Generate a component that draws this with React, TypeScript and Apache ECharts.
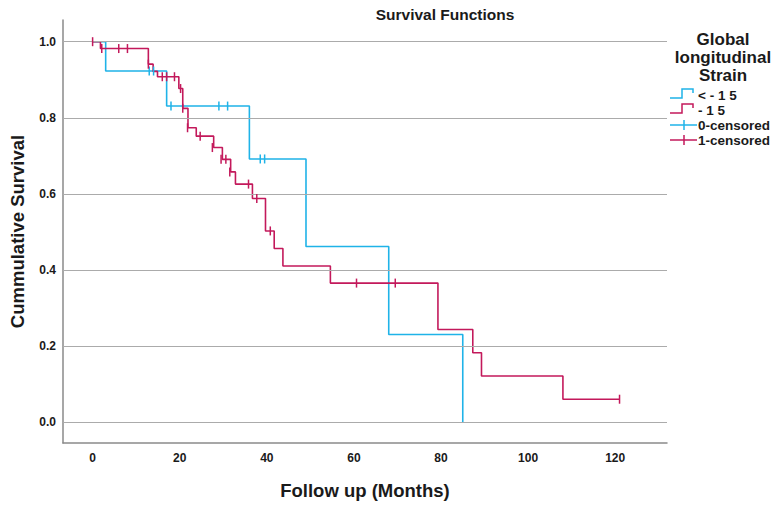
import React, { useEffect, useRef } from "react";
import * as echarts from "echarts";

// Kaplan-Meier step data (time in months, cumulative survival)
const blueTimes = [0, 3, 17, 36, 49, 68, 85];
const blueSurv = [1.0, 0.923, 0.831, 0.692, 0.462, 0.231, 0.0];
const blueCensorTimes = [13, 14, 18, 29, 31, 38.5, 39.5];
const blueCensorSurv = [0.923, 0.923, 0.831, 0.831, 0.831, 0.692, 0.692];

const redTimes = [0, 1.8, 12.8, 13.9, 14.9, 19.8, 20.7, 21.9, 23.8, 27.8, 29.8, 31.7, 32.8, 36.7, 39.7, 41.7, 43.7, 54.6, 79.3, 87.3, 89.3, 108, 121];
const redSurv = [1.0, 0.982, 0.941, 0.922, 0.908, 0.877, 0.825, 0.774, 0.752, 0.722, 0.691, 0.658, 0.626, 0.588, 0.503, 0.457, 0.411, 0.366, 0.244, 0.183, 0.122, 0.061, 0.061];
const redCensorTimes = [0, 2.1, 6, 8, 12.8, 16, 17, 18.8, 20.2, 20.7, 21.8, 24.7, 27.5, 29.5, 30.6, 31.5, 35.8, 37.7, 40.8, 60.6, 69.5, 121];
const redCensorSurv = [1.0, 0.982, 0.982, 0.982, 0.941, 0.908, 0.908, 0.908, 0.877, 0.825, 0.774, 0.752, 0.722, 0.691, 0.691, 0.658, 0.626, 0.588, 0.503, 0.366, 0.366, 0.061];

const xTickLabels = [0, 20, 40, 60, 80, 100, 120];
const yTickLabels = [0, 0.2, 0.4, 0.6, 0.8, 1.0];

const groupNames = ["< - 1 5", "- 1 5"];
const censorNames = ["0-censored", "1-censored"];
const legendTitle = ["Global", "longitudinal", "Strain"];

const BLUE = "#1FB3E8";
const RED = "#C3195B";
const FONT = "'Liberation Sans', Arial, Helvetica, sans-serif";
const TXT = "#1a1a1a";

const zip = (a: number[], b: number[]) => a.map((v, i) => [v, b[i]]);

export default function App() {
  const ref = useRef<HTMLDivElement>(null);
  useEffect(() => {
    if (!ref.current) return;
    const chart = echarts.init(ref.current, null, { renderer: "svg" });
    const legendX = 670;
    const legendRows = [95, 110, 125, 140];
    const graphics: any[] = [];
    legendTitle.forEach((t, i) => {
      graphics.push({
        type: "text",
        x: 723,
        y: 39 + i * 18,
        style: { text: t, font: `bold 17px ${FONT}`, fill: TXT, align: "center", verticalAlign: "middle" },
      });
    });
    [BLUE, RED].forEach((c, i) => {
      const y = legendRows[i];
      graphics.push({
        type: "polyline",
        shape: { points: [[legendX, y + 3], [legendX + 12, y + 3], [legendX + 12, y - 6], [legendX + 23, y - 6], [legendX + 23, y - 2]] },
        style: { stroke: c, lineWidth: 1.5, fill: null },
      });
      graphics.push({
        type: "text",
        x: legendX + 28,
        y,
        style: { text: groupNames[i], font: `bold 13.5px ${FONT}`, fill: TXT, align: "left", verticalAlign: "middle" },
      });
    });
    [BLUE, RED].forEach((c, i) => {
      const y = legendRows[i + 2];
      graphics.push({ type: "line", shape: { x1: legendX, y1: y, x2: legendX + 27, y2: y }, style: { stroke: c, lineWidth: 1.5 } });
      graphics.push({ type: "line", shape: { x1: legendX + 14, y1: y - 5, x2: legendX + 14, y2: y + 5 }, style: { stroke: c, lineWidth: 1.5 } });
      graphics.push({
        type: "text",
        x: legendX + 28,
        y,
        style: { text: censorNames[i], font: `bold 13.5px ${FONT}`, fill: TXT, align: "left", verticalAlign: "middle" },
      });
    });

    chart.setOption({
      animation: false,
      backgroundColor: "#ffffff",
      title: {
        text: "Survival Functions",
        left: 440,
        top: 1,
        textAlign: "center",
        textStyle: { fontFamily: FONT, fontWeight: "bold", fontSize: 15.5, color: TXT },
      },
      grid: { left: 54, top: 20, right: 111, bottom: 53, containLabel: false },
      xAxis: {
        type: "value",
        min: -6.8,
        max: 131.9,
        name: "Follow up (Months)",
        nameLocation: "middle",
        nameGap: 38,
        nameTextStyle: { fontFamily: FONT, fontWeight: "bold", fontSize: 18.5, color: TXT },
        axisLine: { show: true, onZero: false, lineStyle: { color: "#8a8a8a", width: 1.5 } },
        axisTick: { show: false },
        splitLine: { show: false },
        axisLabel: {
          customValues: xTickLabels,
          margin: 9,
          fontFamily: FONT,
          fontWeight: "bold",
          fontSize: 12,
          color: TXT,
          formatter: (v: number) => String(Math.round(v)),
        },
      },
      yAxis: {
        type: "value",
        min: -0.054,
        max: 1.057,
        name: "Cummulative Survival",
        nameLocation: "middle",
        nameGap: 36,
        nameRotate: 90,
        nameTextStyle: { fontFamily: FONT, fontWeight: "bold", fontSize: 18.5, color: TXT },
        axisLine: { show: true, onZero: false, lineStyle: { color: "#8a8a8a", width: 1.5 } },
        axisTick: { show: false },
        splitLine: { show: false },
        axisLabel: {
          customValues: yTickLabels,
          margin: 7,
          fontFamily: FONT,
          fontWeight: "bold",
          fontSize: 12,
          color: TXT,
          formatter: (v: number) => v.toFixed(1),
        },
      },
      series: [
        {
          type: "line",
          name: "grid",
          data: [],
          z: 1,
          silent: true,
          markLine: {
            silent: true,
            symbol: ["none", "none"],
            label: { show: false },
            lineStyle: { color: "#ababab", width: 1.2, type: "solid" },
            data: yTickLabels.map((v) => ({ yAxis: v })),
          },
        },
        {
          type: "line",
          name: groupNames[0],
          step: "end",
          data: zip(blueTimes, blueSurv),
          showSymbol: false,
          lineStyle: { color: BLUE, width: 1.6 },
          itemStyle: { color: BLUE },
          z: 3,
        },
        {
          type: "line",
          name: groupNames[1],
          step: "end",
          data: zip(redTimes, redSurv),
          showSymbol: false,
          lineStyle: { color: RED, width: 1.6 },
          itemStyle: { color: RED },
          z: 4,
        },
        {
          type: "scatter",
          name: censorNames[0],
          data: zip(blueCensorTimes, blueCensorSurv),
          symbol: "rect",
          symbolSize: [1.5, 9],
          itemStyle: { color: BLUE, opacity: 1 },
          z: 5,
        },
        {
          type: "scatter",
          name: censorNames[1],
          data: zip(redCensorTimes, redCensorSurv),
          symbol: "rect",
          symbolSize: [1.5, 9],
          itemStyle: { color: RED, opacity: 1 },
          z: 6,
        },
      ],
      graphic: graphics,
    });
    return () => chart.dispose();
  }, []);
  return <div ref={ref} style={{ position: "fixed", left: 0, top: 0, width: 778, height: 505 }} />;
}
